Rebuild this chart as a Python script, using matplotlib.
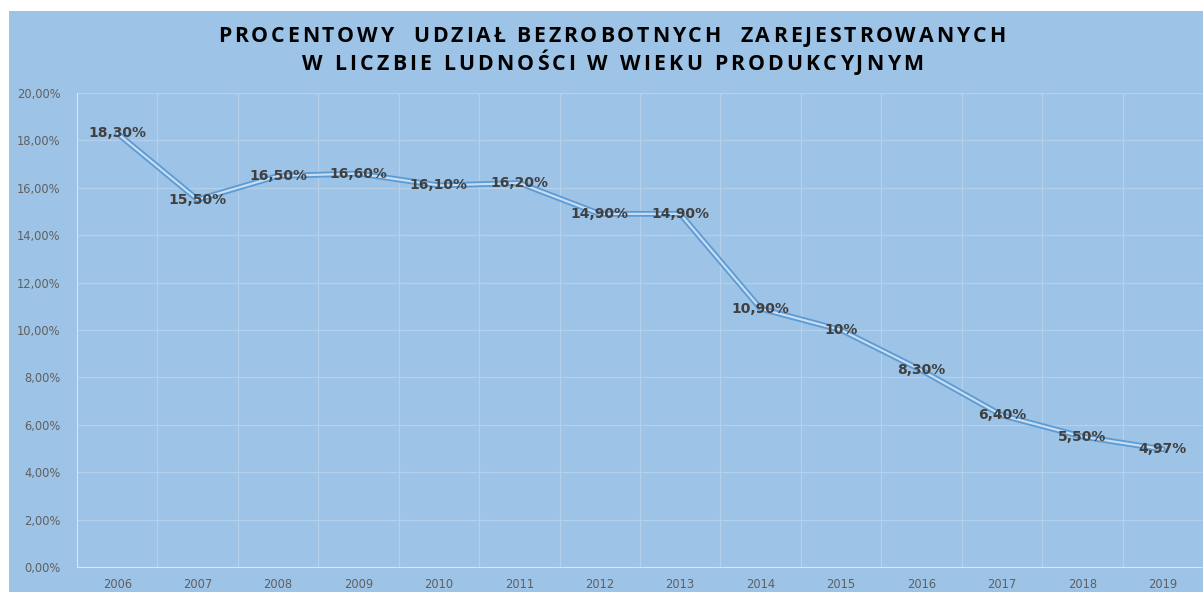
import matplotlib
matplotlib.use("Agg")
import matplotlib.pyplot as plt
from matplotlib.ticker import FuncFormatter, MultipleLocator, FixedLocator
from matplotlib.font_manager import FontProperties, findfont, get_font

years = ["2006", "2007", "2008", "2009", "2010", "2011", "2012",
         "2013", "2014", "2015", "2016", "2017", "2018", "2019"]
values = [18.30, 15.50, 16.50, 16.60, 16.10, 16.20, 14.90,
          14.90, 10.90, 10.00, 8.30, 6.40, 5.50, 4.97]
labels = ["18,30%", "15,50%", "16,50%", "16,60%", "16,10%", "16,20%", "14,90%",
          "14,90%", "10,90%", "10%", "8,30%", "6,40%", "5,50%", "4,97%"]
title_lines = ["PROCENTOWY  UDZIAŁ BEZROBOTNYCH  ZAREJESTROWANYCH",
               "W LICZBIE LUDNOŚCI W WIEKU PRODUKCYJNYM"]

FONT = "DejaVu Sans"
TFONT = "Open Sans"
TSIZE = 15.3  # points
BG = "#9DC3E6"
W, H = 1203, 592

# glyph advances (pixels at 100 dpi) for the title font, computed up front
fp = FontProperties(family=TFONT, weight="bold")
ftfont = get_font(findfont(fp))
ftfont.set_size(TSIZE, 100)
adv_cache = {}
for line in title_lines:
    for ch in line:
        if ch not in adv_cache:
            adv_cache[ch] = ftfont.load_char(ord(ch)).linearHoriAdvance / 65536.0

fig = plt.figure(figsize=(W / 100, H / 100), dpi=100)
fig.patch.set_facecolor("white")
bgax = fig.add_axes([9 / W, 0, 1 - 9 / W, 1 - 11 / H], zorder=-5)
bgax.set_facecolor(BG)
bgax.set_xticks([]); bgax.set_yticks([])
for s in bgax.spines.values():
    s.set_visible(False)

ax = fig.add_axes([77 / W, 1 - 567 / H, 1 - 77 / W, (567 - 93) / H], zorder=1)
ax.patch.set_alpha(0)
x = list(range(len(years)))
ax.plot(x, values, color="#5B9BD5", lw=4.2, solid_joinstyle="round", solid_capstyle="round", zorder=3)
ax.plot(x, values, color="#C9DDF2", lw=1.6, solid_joinstyle="round", solid_capstyle="round", zorder=4)

for xi, v, lab in zip(x, values, labels):
    ax.text(xi, v, lab, ha="center", va="center", fontsize=10,
            fontweight="bold", color="#404040", family=FONT, zorder=5)

ax.set_xlim(-0.5, len(years) - 0.5)
ax.set_ylim(0, 20)
ax.yaxis.set_major_locator(MultipleLocator(2))
ax.yaxis.set_major_formatter(FuncFormatter(lambda v, p: f"{v:.2f}%".replace(".", ",")))
ax.set_xticks(x)
ax.set_xticklabels(years)
ax.xaxis.set_minor_locator(FixedLocator([i + 0.5 for i in range(len(years) - 1)]))
ax.grid(axis="y", which="major", color="#B3D0EC", lw=0.9, zorder=1)
ax.grid(axis="x", which="minor", color="#B3D0EC", lw=0.9, zorder=1)
ax.set_axisbelow(True)
for s in ["top", "right"]:
    ax.spines[s].set_visible(False)
ax.spines["left"].set_color("#D9E5F2")
ax.spines["bottom"].set_color("#D9E5F2")
ax.tick_params(axis="both", which="both", length=0, colors="#606060", labelsize=8.3)
ax.tick_params(axis="y", pad=12)
ax.tick_params(axis="x", pad=8)
for t in ax.get_xticklabels() + ax.get_yticklabels():
    t.set_family(FONT)

def tracked(line, left, right, baseline_from_top):
    advs = [adv_cache[c] for c in line]
    total = sum(advs)
    track = (right - left - total) / (len(line) - 1)
    xpos = left
    for ch, a in zip(line, advs):
        if ch != " ":
            fig.text(xpos / W, 1 - baseline_from_top / H, ch, fontsize=TSIZE,
                     fontweight="bold", family=TFONT, color="black",
                     ha="left", va="baseline")
        xpos += a + track

tracked(title_lines[0], 218, 1005, 42)
tracked(title_lines[1], 302, 923, 70)

fig.savefig("out.png", dpi=100, facecolor="white")
